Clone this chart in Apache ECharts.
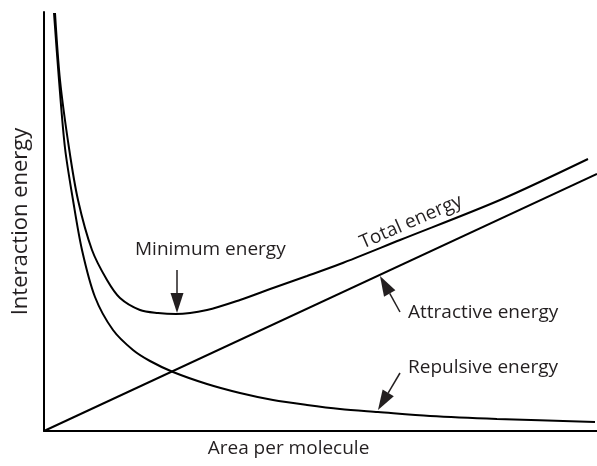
<!DOCTYPE html>
<html>
<head>
<meta charset="utf-8">
<script src="https://cdn.jsdelivr.net/npm/echarts@6/dist/echarts.min.js"></script>
<style>html,body{margin:0;padding:0;background:#fff;}#c{width:597px;height:466px;}</style>
</head>
<body>
<div id="c"></div>
<script>
// Data (arbitrary units)
var repulsive = [[10,418],[15,351],[21,283],[29,231],[38,181],[51,134],[69,101],[89,81],[106,70],[129,59],[163,47],[196,38],[229,31],[263,26],[296,22],[334,19],[386,15],[453,12],[551,9]];
var total = [[11,418],[16,351],[25,283],[34,231],[48,181],[63,151],[76,133],[96,121],[114,118],[132,117],[163,121],[196,131],[229,143],[263,155],[296,167],[356,191],[456,231],[544,272]];
var attractive = [[0,0],[553,257]];

var labels = [
  {text:'Minimum energy', x:91, y:181, rot:0},
  {text:'Total energy', x:367, y:209, rot:23.5, center:true},
  {text:'Attractive energy', x:364, y:118, rot:0},
  {text:'Repulsive energy', x:364, y:63, rot:0}
];
var arrows = [
  {from:[133,161], to:[133,118]},
  {from:[356,119], to:[336,155]},
  {from:[356,58], to:[334,21]}
];

var FONT = 'Open Sans';
var TXT = '#231f20';
var chart = echarts.init(document.getElementById('c'), null, {renderer:'canvas'});
var lineStyle = {color:'#000', width:2};
chart.setOption({
  animation:false,
  grid:{left:44, right:0, top:12, bottom:35},
  xAxis:{type:'value', min:0, max:553, name:'Area per molecule', nameLocation:'middle', nameGap:8,
    nameTextStyle:{fontFamily:FONT, fontSize:19, color:TXT, padding:[0,64,0,0]},
    axisLine:{show:true, lineStyle:{color:'#000', width:2}}, axisTick:{show:false}, axisLabel:{show:false}, splitLine:{show:false}},
  yAxis:{type:'value', min:0, max:419, name:'Interaction energy', nameLocation:'middle', nameGap:12,
    nameTextStyle:{fontFamily:FONT, fontSize:22, color:TXT},
    axisLine:{show:true, lineStyle:{color:'#000', width:2}}, axisTick:{show:false}, axisLabel:{show:false}, splitLine:{show:false}},
  series:[
    {type:'line', data:repulsive, smooth:0.3, showSymbol:false, lineStyle:lineStyle},
    {type:'line', data:total, smooth:0.3, showSymbol:false, lineStyle:lineStyle},
    {type:'line', data:attractive, showSymbol:false, lineStyle:lineStyle}
  ]
});

var g = [];
labels.forEach(function(l){
  var p = chart.convertToPixel({gridIndex:0}, [l.x, l.y]);
  g.push({type:'text', x:p[0], y:p[1], rotation:l.rot*Math.PI/180,
    style:{text:l.text, fill:TXT, font:'19px "'+FONT+'"', textAlign:l.center?'center':'left', textVerticalAlign:'middle'}});
});
arrows.forEach(function(a){
  var p0 = chart.convertToPixel({gridIndex:0}, a.from);
  var p1 = chart.convertToPixel({gridIndex:0}, a.to);
  var dx = p1[0]-p0[0], dy = p1[1]-p0[1], L = Math.sqrt(dx*dx+dy*dy);
  var ux = dx/L, uy = dy/L, hl = 20, hw = 6.5;
  var bx = p1[0]-ux*hl, by = p1[1]-uy*hl;
  g.push({type:'line', shape:{x1:p0[0], y1:p0[1], x2:bx, y2:by}, style:{stroke:'#231f20', lineWidth:1.5}});
  g.push({type:'polygon', shape:{points:[[p1[0],p1[1]],[bx-uy*hw,by+ux*hw],[bx+uy*hw,by-ux*hw]]}, style:{fill:'#231f20'}});
});
chart.setOption({graphic:g});
</script>
</body>
</html>
